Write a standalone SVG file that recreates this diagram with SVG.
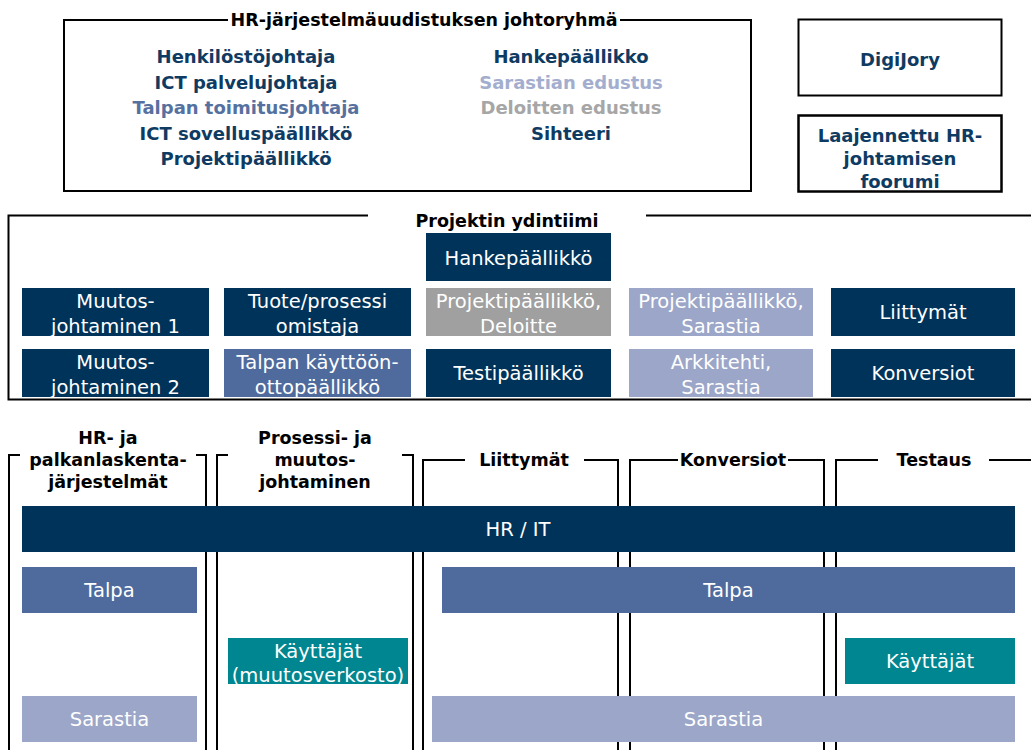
<svg xmlns="http://www.w3.org/2000/svg" width="1031" height="750" viewBox="0 0 1031 750">
<style>
text{font-family:"DejaVu Sans","Liberation Sans",sans-serif;text-anchor:middle}
.b{font-weight:bold}
.t18{font-size:18px}
.t17{font-size:17.5px}
.w{font-size:19.5px;fill:#ffffff}
.navy{fill:#0F3B63}
.tal{fill:#5671A0}
.sar{fill:#A3AECF}
.del{fill:#A6A6A6}
.blk{fill:#000000}
.ln{stroke:#000;stroke-width:2;fill:none}
.fnavy{fill:#00335A}
.ftal{fill:#4F6B9D}
.fsar{fill:#9BA6C8}
.fdel{fill:#A0A0A0}
.fteal{fill:#008690}
</style>
<rect width="1031" height="750" fill="#ffffff"/>

<g id="johtoryhma">
<path class="ln" d="M228 20 H64 V191 H751 V20 H620"/>
<text x="424" y="26" class="b t17 blk">HR-järjestelmäuudistuksen johtoryhmä</text>
<text x="246" y="63" class="b t18 navy">Henkilöstöjohtaja</text>
<text x="246" y="88.5" class="b t18 navy">ICT palvelujohtaja</text>
<text x="246" y="114" class="b t18 tal">Talpan toimitusjohtaja</text>
<text x="246" y="139.5" class="b t18 navy">ICT sovelluspäällikkö</text>
<text x="246" y="165" class="b t18 navy">Projektipäällikkö</text>
<text x="571" y="63" class="b t18 navy">Hankepäällikko</text>
<text x="571" y="88.5" class="b t18 sar">Sarastian edustus</text>
<text x="571" y="114" class="b t18 del">Deloitten edustus</text>
<text x="571" y="139.5" class="b t18 navy">Sihteeri</text>
</g>

<g id="digijory">
<rect x="798.5" y="19.5" width="203" height="76" class="ln"/>
<text x="900" y="66" class="b t18 navy">DigiJory</text>
</g>

<g id="laajennettu">
<rect x="798.5" y="115.5" width="203" height="76" class="ln" style="stroke-width:2.5"/>
<text x="900" y="142" class="b t18 navy">Laajennettu HR-</text>
<text x="900" y="165" class="b t18 navy">johtamisen</text>
<text x="900" y="188" class="b t18 navy">foorumi</text>
</g>

<g id="ydintiimi">
<path class="ln" d="M368 215.5 H8.5 V399.5 H1031"/>
<path class="ln" d="M646 215.5 H1031"/>
<text x="507" y="227" class="b t17 blk">Projektin ydintiimi</text>
</g>

<g id="hankepaallikko">
<rect x="426" y="233" width="185" height="48" class="fnavy"/>
<text x="518.5" y="265" class="w">Hankepäällikkö</text>
</g>

<g id="muutos1">
<rect x="22" y="288" width="187" height="48" class="fnavy"/>
<text x="115.5" y="308" class="w">Muutos-</text>
<text x="115.5" y="333" class="w">johtaminen 1</text>
</g>
<g id="tuote">
<rect x="224" y="288" width="187" height="48" class="fnavy"/>
<text x="317.5" y="308" class="w">Tuote/prosessi</text>
<text x="317.5" y="333" class="w">omistaja</text>
</g>
<g id="pp-deloitte">
<rect x="426" y="288" width="185" height="48" class="fdel"/>
<text x="518.5" y="308" class="w">Projektipäällikkö,</text>
<text x="518.5" y="333" class="w">Deloitte</text>
</g>
<g id="pp-sarastia">
<rect x="629" y="288" width="184" height="48" class="fsar"/>
<text x="721" y="308" class="w">Projektipäällikkö,</text>
<text x="721" y="333" class="w">Sarastia</text>
</g>
<g id="liittymat-core">
<rect x="831" y="288" width="184" height="48" class="fnavy"/>
<text x="923" y="319" class="w">Liittymät</text>
</g>

<g id="muutos2">
<rect x="22" y="349" width="187" height="48" class="fnavy"/>
<text x="115.5" y="369" class="w">Muutos-</text>
<text x="115.5" y="394" class="w">johtaminen 2</text>
</g>
<g id="talpa-kayttoonotto">
<rect x="224" y="349" width="187" height="48" class="ftal"/>
<text x="317.5" y="369" class="w">Talpan käyttöön-</text>
<text x="317.5" y="394" class="w">ottopäällikkö</text>
</g>
<g id="testipaallikko">
<rect x="426" y="349" width="185" height="48" class="fnavy"/>
<text x="518.5" y="380" class="w">Testipäällikkö</text>
</g>
<g id="arkkitehti">
<rect x="629" y="349" width="184" height="48" class="fsar"/>
<text x="721" y="369" class="w">Arkkitehti,</text>
<text x="721" y="394" class="w">Sarastia</text>
</g>
<g id="konversiot-core">
<rect x="831" y="349" width="184" height="48" class="fnavy"/>
<text x="923" y="380" class="w">Konversiot</text>
</g>

<g id="connectors">
<path class="ln" d="M20 455 H9 V750"/>
<path class="ln" d="M196 455 H206 V750"/>
<path class="ln" d="M228 455 H217 V750"/>
<path class="ln" d="M402 455 H413 V750"/>
<path class="ln" d="M465 460 H423 V750"/>
<path class="ln" d="M584 460 H618 V750"/>
<path class="ln" d="M678 460 H630 V750"/>
<path class="ln" d="M788 460 H824 V750"/>
<path class="ln" d="M878 460 H836 V750"/>
<path class="ln" d="M989 460 H1031"/>
</g>

<g id="hdr-hr">
<text x="108" y="444" class="b t17 blk">HR- ja</text>
<text x="108" y="466" class="b t17 blk">palkanlaskenta-</text>
<text x="108" y="488" class="b t17 blk">järjestelmät</text>
</g>
<g id="hdr-prosessi">
<text x="315" y="444" class="b t17 blk">Prosessi- ja</text>
<text x="315" y="466" class="b t17 blk">muutos-</text>
<text x="315" y="488" class="b t17 blk">johtaminen</text>
</g>
<g id="hdr-liittymat">
<text x="524" y="466" class="b t17 blk">Liittymät</text>
</g>
<g id="hdr-konversiot">
<text x="733" y="466" class="b t17 blk">Konversiot</text>
</g>
<g id="hdr-testaus">
<text x="934" y="466" class="b t17 blk">Testaus</text>
</g>

<g id="hr-it">
<rect x="22" y="506" width="993" height="46" class="fnavy"/>
<text x="518" y="536" class="w">HR / IT</text>
</g>
<g id="talpa-left">
<rect x="22" y="567" width="175" height="46" class="ftal"/>
<text x="109.5" y="597" class="w">Talpa</text>
</g>
<g id="talpa-right">
<rect x="442" y="567" width="573" height="46" class="ftal"/>
<text x="728.5" y="597" class="w">Talpa</text>
</g>
<g id="kayttajat-muutos">
<rect x="228" y="638" width="180" height="46" class="fteal"/>
<text x="318" y="658" class="w">Käyttäjät</text>
<text x="318" y="682" class="w">(muutosverkosto)</text>
</g>
<g id="kayttajat-testaus">
<rect x="845" y="638" width="170" height="46" class="fteal"/>
<text x="930" y="668" class="w">Käyttäjät</text>
</g>
<g id="sarastia-left">
<rect x="22" y="696" width="175" height="46" class="fsar"/>
<text x="109.5" y="726" class="w">Sarastia</text>
</g>
<g id="sarastia-right">
<rect x="432" y="696" width="583" height="46" class="fsar"/>
<text x="723.5" y="726" class="w">Sarastia</text>
</g>
</svg>
